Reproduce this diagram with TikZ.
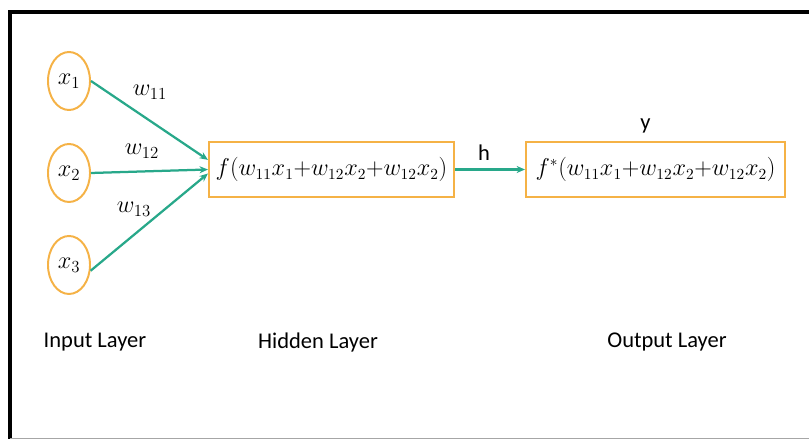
\documentclass[tikz,border=0pt]{standalone}
\usepackage{fontspec}
\setmainfont{Carlito}
\usepackage{tikz}
\usetikzlibrary{arrows.meta, positioning, shapes.geometric, calc}
\definecolor{nodeorange}{RGB}{245,178,70}
\definecolor{edgeteal}{RGB}{40,168,138}

\begin{document}
\begin{tikzpicture}[
        x=0.025cm, y=-0.025cm,
        neuron/.style={draw=nodeorange, ellipse, line width=1.4pt, minimum width=1.05cm, minimum height=1.45cm, inner sep=0pt, font=\fontsize{18}{21}\selectfont},
        layerbox/.style={draw=nodeorange, line width=1.4pt, minimum height=1.375cm, inner sep=2pt, font=\fontsize{16}{19}\selectfont},
        weight/.style={font=\fontsize{18}{21}\selectfont},
        caption/.style={font=\fontsize{16}{19}\selectfont},
        arrow/.style={-{Stealth[length=6pt, width=5pt]}, draw=edgeteal, line width=1.6pt}
    ]
        \useasboundingbox (0,0) rectangle (809,439);

        % khung ngoai
        \draw[line width=2.4pt] (10,439) -- (10,12) -- (809,12);
        \draw[gray!70, line width=1.2pt] (10,438.5) -- (809,438.5);

        \node[neuron] (x1) at (69,81) {$x_1$};
        \node[neuron, below=0.8cm of x1] (x2) {$x_2$};
        \node[neuron, below=0.8cm of x2] (x3) {$x_3$};

        \node[layerbox, minimum width=6.125cm] (hidden) at (331.5,169.5) {$f(w_{11}x_1{+}w_{12}x_2{+}w_{12}x_2)$};
        \node[layerbox, minimum width=6.475cm, right=1.75cm of hidden] (output) {$f^*(w_{11}x_1{+}w_{12}x_2{+}w_{12}x_2)$};

        \node[weight] (w11) at (150,92) {$w_{11}$};
        \node[weight] (w12) at (142,151) {$w_{12}$};
        \node[weight] (w13) at (134,209) {$w_{13}$};

        \node[caption, above=0.08cm of output, xshift=-0.25cm] (y) {y};
        \node[caption] (h) at (484,153) {h};

        \node[caption] (input label) at (95,342) {Input Layer};
        \node[caption] (hidden label) at (318,342) {Hidden Layer};
        \node[caption] (output label) at (667,342) {Output Layer};

        \draw[arrow] (x1.east) -- ([yshift=0.24cm]hidden.west);
        \draw[arrow] (x2.east) -- (hidden.west);
        \draw[arrow] (x3.-15) -- ([yshift=-0.1cm]hidden.west);
        \draw[arrow] (hidden.east) -- (output.west);
    \end{tikzpicture}
\end{document}
